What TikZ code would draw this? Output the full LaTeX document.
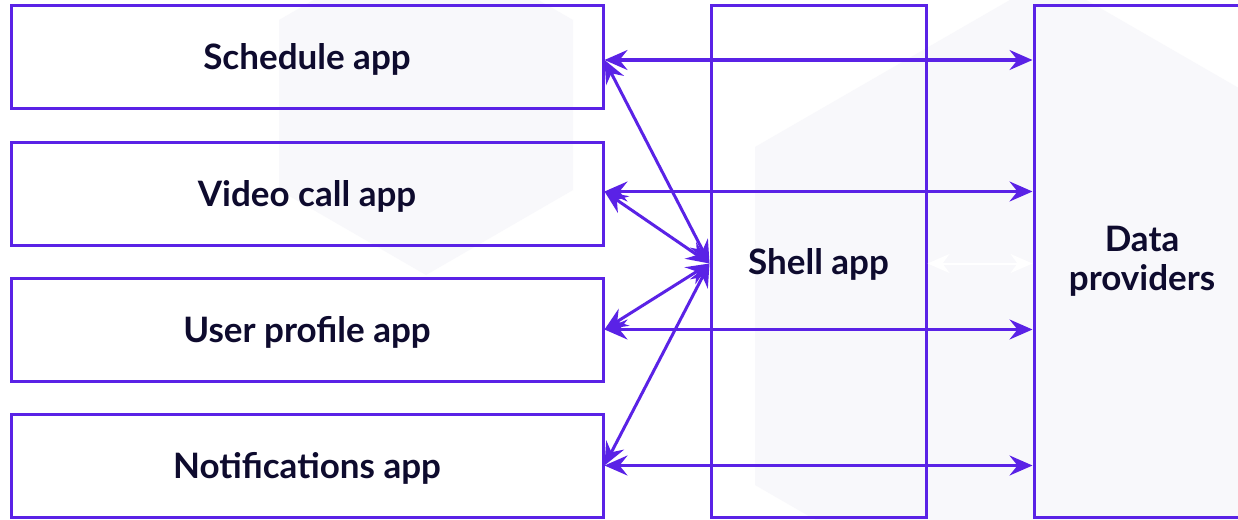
\documentclass[tikz,border=0pt]{standalone}
\usepackage{fontspec}
\setmainfont{Lato}
\usetikzlibrary{arrows.meta}
\definecolor{lc}{HTML}{5A22E6}
\definecolor{tc}{HTML}{0E0B2E}
\definecolor{hexc}{HTML}{F8F8FB}
\tikzset{
  appbox/.style={draw=lc, line width=3pt, minimum width=592pt, minimum height=103pt, inner sep=0pt,
    text=tc, text height=32pt, text depth=6pt, font=\fontsize{35}{39}\selectfont\bfseries},
  tallbox/.style={draw=lc, line width=3pt, minimum height=511pt, inner sep=0pt, align=center,
    text=tc, font=\fontsize{35}{39}\selectfont\bfseries},
  dar/.style={draw=lc, line width=3pt, {Stealth[length=23pt,width=20pt,inset=8pt]}-{Stealth[length=23pt,width=20pt,inset=8pt]}},
  war/.style={draw=white, line width=2pt, {Stealth[length=22pt,width=19pt,inset=7pt]}-{Stealth[length=22pt,width=19pt,inset=7pt]}},
  hexfill/.style={fill=hexc, draw=none}
}
\begin{document}
\begin{tikzpicture}[x=1pt,y=-1pt]
\useasboundingbox (0,0) rectangle (1238,519);
\fill[white] (0,0) rectangle (1238,519);
\begin{scope}
\clip (0,0) rectangle (1238,519);
\fill[hexfill] (426,-65) -- (573,20) -- (573,190) -- (426,275) -- (279,190) -- (279,20) -- cycle;
\fill[hexfill] (1048,-22) -- (1341,147) -- (1341,485) -- (1048,654) -- (755,485) -- (755,147) -- cycle;
\node[appbox] (sched) at (307,57) {Schedule app};
\node[appbox] (video) at (307,193.5) {Video call app};
\node[appbox] (user) at (307,329.5) {User profile app};
\node[appbox] (notif) at (307,465.5) {Notifications app};
\node[tallbox, minimum width=215pt, text height=32pt, text depth=6pt] (shell) at (818.5,261.5) {Shell app};
\node[tallbox, minimum width=216pt, text width=216pt] (data) at (1142,261.5) {Data\\providers};
\coordinate (s) at ([yshift=-3pt]sched.east);
\coordinate (v) at ([yshift=2pt]video.east);
\coordinate (u) at (user.east);
\coordinate (n) at (notif.east);
\coordinate (h) at ([yshift=-2pt]shell.west);
\draw[dar] (s) -- (s -| data.west);
\draw[dar] (v) -- (v -| data.west);
\draw[dar] (u) -- (u -| data.west);
\draw[dar] (n) -- (n -| data.west);
\draw[dar] (s) -- (h);
\draw[dar] (v) -- (h);
\draw[dar] (u) -- (h);
\draw[dar] (n) -- (h);
\draw[war] ([yshift=-2pt]shell.east) -- ([yshift=-2pt]data.west);
\end{scope}
\end{tikzpicture}
\end{document}
